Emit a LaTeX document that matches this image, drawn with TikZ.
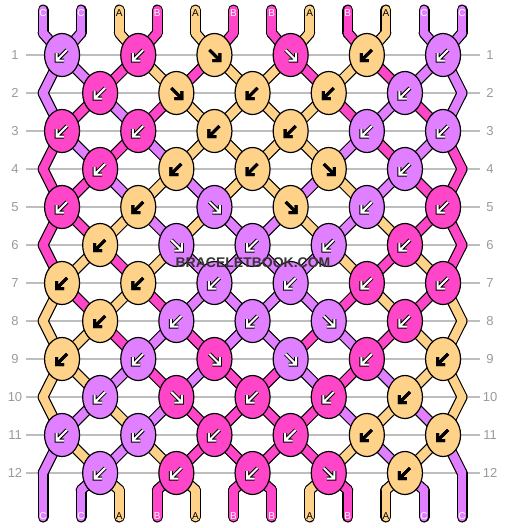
\documentclass[tikz,border=0pt]{standalone}
\usepackage{fontspec}
\setmainfont{Liberation Sans}
\usetikzlibrary{shapes.geometric}

\definecolor{strA}{HTML}{FFD28A}
\definecolor{strB}{HTML}{FF46C8}
\definecolor{strC}{HTML}{E07FFF}
\colorlet{inkA}{black}
\colorlet{inkB}{white}
\colorlet{inkC}{white}
\definecolor{rowgray}{HTML}{BEBEBE}
\definecolor{numgray}{HTML}{9A9A9A}
\definecolor{wmgray}{HTML}{353535}

\tikzset{
  knot/.style={ellipse, draw=black, line width=1.2pt, minimum width=35pt, minimum height=43pt, inner sep=0pt},
  rowline/.style={rowgray, line width=1.3pt},
  rownum/.style={numgray, font=\fontsize{13}{13}\selectfont},
  strlabel/.style={font=\fontsize{10}{10}\selectfont, inner sep=0pt},
  strandedge/.style={black, line width=11pt, line cap=round},
  strandfill/.style={line width=8.6pt, line cap=round},
  % arrow rim and core for each knot colour
  rimA/.style={black, line width=3pt},
  rimB/.style={black, line width=4pt},
  rimC/.style={black, line width=4pt},
  coreA/.style={black, line width=3pt},
  coreB/.style={white, line width=2pt},
  coreC/.style={white, line width=2pt},
  pics/arrl/.style={code={
    \draw[rim#1] (5,-5) -- (-4.5,4.5) (-5.5,-2) -- (-5.5,5.5) -- (2,5.5);
    \draw[core#1] (5,-5) -- (-4.5,4.5) (-5.5,-2) -- (-5.5,5.5) -- (2,5.5);
  }},
  pics/arrr/.style={code={
    \draw[rim#1] (-5,-5) -- (4.5,4.5) (5.5,-2) -- (5.5,5.5) -- (-2,5.5);
    \draw[core#1] (-5,-5) -- (4.5,4.5) (5.5,-2) -- (5.5,5.5) -- (-2,5.5);
  }},
}

% colour of every string position after each row
\def\states{0/{C,C,A,B,A,B,B,A,B,A,C,C}, 1/{C,C,B,A,B,A,A,B,A,B,C,C},
  2/{C,B,C,B,A,A,A,A,B,C,B,C}, 3/{B,C,B,C,A,A,A,A,C,B,C,B},
  4/{B,B,C,A,C,A,A,C,A,C,B,B}, 5/{B,B,A,C,A,C,C,A,C,A,B,B},
  6/{B,A,B,A,C,C,C,C,A,B,A,B}, 7/{A,B,A,B,C,C,C,C,B,A,B,A},
  8/{A,A,B,C,B,C,C,B,C,B,A,A}, 9/{A,A,C,B,C,B,B,C,B,C,A,A},
  10/{A,C,A,C,B,B,B,B,C,A,C,A}, 11/{C,A,C,A,B,B,B,B,A,C,A,C},
  12/{C,C,A,B,A,B,B,A,B,A,C,C}}

\begin{document}
\begin{tikzpicture}[x=1pt, y=-1pt]
\useasboundingbox (0,0) rectangle (506,528);

% row guides
\foreach \r in {1,...,12} {
  \draw[rowline] (26,{55+38*(\r-1)}) -- (480,{55+38*(\r-1)});
  \node[rownum] (ln-\r) at (15,{55+38*(\r-1)}) {\r};
  \node[rownum] (rn-\r) at (490,{55+38*(\r-1)}) {\r};
}

% where each string passes on each row
\foreach \p in {1,...,12} {
  \coordinate (t-\p) at ({43+38.1*(\p-1)},10);
  \coordinate (p-0-\p) at ({43+38.1*(\p-1)},33);
  \coordinate (p-13-\p) at ({43+38.1*(\p-1)},490);
  \coordinate (b-\p) at ({43+38.1*(\p-1)},517);
}
\foreach \r in {1,...,12}
  \foreach \p in {1,...,12} {
    \pgfmathsetmacro\kx{isodd(\r) ? 62.05+76.2*(int((\p+1)/2)-1) : ((\p==1 || \p==12) ? 43+38.1*(\p-1) : 100.15+76.2*(int(\p/2)-1))}
    \coordinate (p-\r-\p) at (\kx,{55+38*(\r-1)});
  }

% strings: outline, then colour
\foreach \r/\s in \states {
  \pgfmathtruncatemacro\rr{\r+1}
  \foreach \c [count=\p] in \s
    \draw[strandedge] (p-\r-\p) -- (p-\rr-\p);
}
\foreach \p in {1,...,12}
  \draw[strandedge] (t-\p) -- (p-0-\p) (p-13-\p) -- (b-\p);
\foreach \r/\s in \states {
  \pgfmathtruncatemacro\rr{\r+1}
  \foreach \c [count=\p] in \s
    \draw[strandfill, color=str\c] (p-\r-\p) -- (p-\rr-\p);
}
\foreach \c [count=\p] in {C,C,A,B,A,B,B,A,B,A,C,C} {
  \draw[strandfill, color=str\c] (t-\p) -- (p-0-\p) (p-13-\p) -- (b-\p);
  \node[strlabel, text=ink\c] (top-\p) at ({43+38.1*(\p-1)},13.5) {\c};
  \node[strlabel, text=ink\c] (bot-\p) at ({43+38.1*(\p-1)},516) {\c};
}

% knots
\foreach \r/\ks in {1/{C/l,B/l,A/r,B/r,A/l,C/l}, 2/{B/l,A/r,A/l,A/l,C/l},
    3/{B/l,B/l,A/l,A/l,C/l,C/l}, 4/{B/l,A/l,A/l,A/r,C/l},
    5/{B/l,A/l,C/r,A/r,C/l,B/l}, 6/{A/l,C/r,C/l,C/l,B/l},
    7/{A/l,A/l,C/l,C/l,B/l,B/l}, 8/{A/l,C/l,C/l,C/r,B/l},
    9/{A/l,C/l,B/r,C/r,B/l,A/l}, 10/{C/l,B/r,B/l,B/l,A/l},
    11/{C/l,C/l,B/l,B/l,A/l,A/l}, 12/{C/l,B/l,B/l,B/r,A/l}} {
  \foreach \c/\d [count=\k] in \ks {
    \pgfmathsetmacro\kx{isodd(\r) ? 62.05+76.2*(\k-1) : 100.15+76.2*(\k-1)}
    \node[knot, fill=str\c] (k-\r-\k) at (\kx,{55+38*(\r-1)}) {};
    \pic at (k-\r-\k) {arr\d=\c};
  }
}

% watermark
\node[font=\bfseries\fontsize{14}{14}\selectfont, text=wmgray] (wm) at (253,263) {BRACELETBOOK.COM};
\end{tikzpicture}
\end{document}
